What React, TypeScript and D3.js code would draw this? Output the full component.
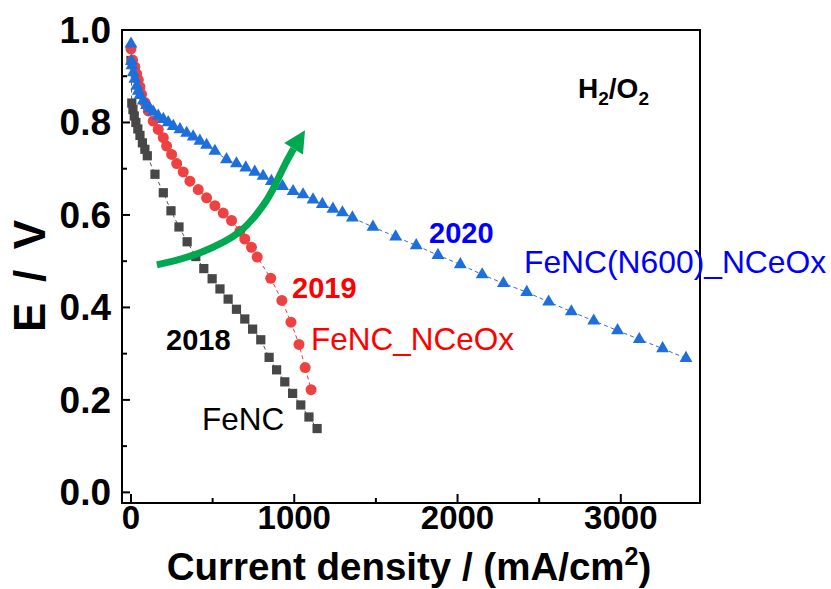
import React from "react";
import * as d3 from "d3";

// ---- data ----
const feNC: [number, number][] = [
  [0, 0.934], [5, 0.842], [12, 0.828], [20, 0.814], [30, 0.800], [42, 0.786], [55, 0.772],
  [70, 0.756], [85, 0.742], [100, 0.728], [147, 0.688], [198, 0.648], [245, 0.609],
  [294, 0.574], [344, 0.542], [397, 0.510], [446, 0.484], [497, 0.462], [545, 0.440],
  [595, 0.418], [646, 0.396], [697, 0.375], [745, 0.353], [795, 0.330], [846, 0.292],
  [892, 0.265], [942, 0.239], [990, 0.214], [1040, 0.189], [1090, 0.163], [1140, 0.138],
];
const feNC_NCeOx: [number, number][] = [
  [0, 0.959], [10, 0.935], [24, 0.920], [35, 0.905], [45, 0.892], [55, 0.877], [65, 0.861],
  [86, 0.843], [106, 0.825], [136, 0.803], [167, 0.785], [198, 0.767], [218, 0.749],
  [249, 0.731], [280, 0.711], [320, 0.693], [361, 0.673], [412, 0.655], [463, 0.637],
  [514, 0.620], [565, 0.604], [616, 0.588], [667, 0.565], [697, 0.548], [738, 0.530],
  [773, 0.509], [856, 0.463], [924, 0.415], [980, 0.368], [1029, 0.320], [1067, 0.270],
  [1103, 0.222],
];
const feNC_N600: [number, number][] = [
  [0, 0.970], [3, 0.933], [6, 0.923], [14, 0.908], [24, 0.894], [35, 0.879], [45, 0.868],
  [55, 0.859], [75, 0.847], [96, 0.837], [116, 0.830], [136, 0.823], [167, 0.814],
  [198, 0.807], [228, 0.800], [259, 0.792], [300, 0.785], [341, 0.777], [381, 0.769],
  [422, 0.760], [463, 0.751], [514, 0.738], [585, 0.720], [646, 0.711], [703, 0.702],
  [758, 0.693], [809, 0.684], [860, 0.673], [928, 0.662], [993, 0.651], [1054, 0.644],
  [1115, 0.633], [1172, 0.623], [1237, 0.613], [1295, 0.605], [1356, 0.594], [1482, 0.574],
  [1621, 0.553], [1747, 0.534], [1880, 0.513], [2017, 0.493], [2151, 0.471], [2281, 0.452],
  [2424, 0.433], [2558, 0.412], [2697, 0.391], [2834, 0.371], [2980, 0.350], [3113, 0.331],
  [3256, 0.311], [3399, 0.290],
];
const xTicks = [0, 1000, 2000, 3000];
const xMinor = [500, 1500, 2500];
const yTicks = [0, 0.2, 0.4, 0.6, 0.8, 1.0];
const yMinor = [0.1, 0.3, 0.5, 0.7, 0.9];
const arrowPath: [number, number][] = [
  [159, 0.492], [423, 0.518], [667, 0.564], [833, 0.633], [943, 0.709], [996, 0.743],
];
const arrowTip: [number, number] = [1066, 0.783];

const FONT = "'Liberation Sans', Arial, Helvetica, sans-serif";

export default function App() {
  const left = 122, right = 700, top = 30, bottom = 503;
  const x = d3.scaleLinear().domain([-55, 3485]).range([left, right]);
  const y = d3.scaleLinear().domain([-0.023, 1.0]).range([bottom, top]);

  const line = d3.line<[number, number]>().x(d => x(d[0])).y(d => y(d[1]));
  const curve = d3.line<[number, number]>().x(d => x(d[0])).y(d => y(d[1])).curve(d3.curveCatmullRom);

  const tri = d3.symbol().type(d3.symbolTriangle).size(72)()!;
  const sq = d3.symbol().type(d3.symbolSquare).size(85)()!;

  // arrowhead
  const end = arrowPath[arrowPath.length - 1];
  const ex = x(end[0]), ey = y(end[1]);
  const tx = x(arrowTip[0]), ty = y(arrowTip[1]);
  const dx = tx - ex, dy = ty - ey;
  const len = Math.hypot(dx, dy);
  const nx = -dy / len, ny = dx / len;
  const hw = 11;
  const head = `M${tx},${ty}L${ex + nx * hw},${ey + ny * hw}L${ex - nx * hw},${ey - ny * hw}Z`;

  return (
    <svg width={831} height={589} style={{ position: "absolute", left: 0, top: 0, background: "#fff" }}
      fontFamily={FONT}>
      <rect width={831} height={589} fill="#fff" />
      {/* frame */}
      <rect x={left} y={top} width={right - left} height={bottom - top} fill="none" stroke="#000" strokeWidth={2} />
      {/* y ticks */}
      {yTicks.map(t => (
        <g key={"y" + t}>
          <line x1={left} x2={left + 8} y1={y(t)} y2={y(t)} stroke="#000" strokeWidth={2} />
          <text x={111} y={y(t) + 13} textAnchor="end" fontSize={37} fontWeight="bold">{t.toFixed(1)}</text>
        </g>
      ))}
      {yMinor.map(t => (
        <line key={"ym" + t} x1={left} x2={left + 5} y1={y(t)} y2={y(t)} stroke="#000" strokeWidth={2} />
      ))}
      {/* x ticks */}
      {xTicks.map(t => (
        <g key={"x" + t}>
          <line x1={x(t)} x2={x(t)} y1={bottom} y2={bottom - 9} stroke="#000" strokeWidth={2} />
          <text x={x(t)} y={529} textAnchor="middle" fontSize={33} fontWeight="bold">{t}</text>
        </g>
      ))}
      {xMinor.map(t => (
        <line key={"xm" + t} x1={x(t)} x2={x(t)} y1={bottom} y2={bottom - 5} stroke="#000" strokeWidth={2} />
      ))}
      {/* axis titles */}
      <text x={409} y={580} textAnchor="middle" fontSize={38.5} fontWeight="bold">
        Current density / (mA/cm<tspan dy={-15} fontSize={25}>2</tspan><tspan dy={15}>)</tspan>
      </text>
      <text transform="translate(45,276) rotate(-90)" textAnchor="middle" fontSize={44} fontWeight="bold"
        textLength={112} lengthAdjust="spacing">E / V</text>

      {/* series lines */}
      <path d={line(feNC)!} fill="none" stroke="#555" strokeWidth={1} strokeDasharray="4,3" />
      <path d={line(feNC_NCeOx)!} fill="none" stroke="#e84040" strokeWidth={1} strokeDasharray="4,3" />
      <path d={line(feNC_N600)!} fill="none" stroke="#2a72d8" strokeWidth={1} strokeDasharray="4,3" />

      {/* markers */}
      {feNC.map((d, i) => (
        <path key={"b" + i} d={sq} transform={`translate(${x(d[0])},${y(d[1])})`} fill="#474747" />
      ))}
      {feNC_NCeOx.map((d, i) => (
        <circle key={"r" + i} cx={x(d[0])} cy={y(d[1])} r={5.5} fill="#ee4242" />
      ))}
      {feNC_N600.map((d, i) => (
        <path key={"t" + i} d={tri} transform={`translate(${x(d[0])},${y(d[1])})`} fill="#1e6fdc" />
      ))}

      {/* green arrow */}
      <path d={curve(arrowPath)!} fill="none" stroke="#00a84f" strokeWidth={7} />
      <path d={head} fill="#00a84f" />

      {/* annotations */}
      <text x={578} y={98} fontSize={28} fontWeight="bold">
        H<tspan dy={7} fontSize={19}>2</tspan><tspan dy={-7}>/O</tspan><tspan dy={7} fontSize={19}>2</tspan>
      </text>
      <text x={429} y={243} fontSize={29} fontWeight="bold" fill="#0000ff">2020</text>
      <text x={524} y={273} fontSize={31.8} fill="#0000ff">FeNC(N600)_NCeOx</text>
      <text x={292} y={298} fontSize={29} fontWeight="bold" fill="#ff0000">2019</text>
      <text x={311} y={350} fontSize={31.5} fill="#ff0000">FeNC_NCeOx</text>
      <text x={166} y={350} fontSize={29} fontWeight="bold" fill="#000">2018</text>
      <text x={202} y={430} fontSize={31.5} fill="#000">FeNC</text>
    </svg>
  );
}
